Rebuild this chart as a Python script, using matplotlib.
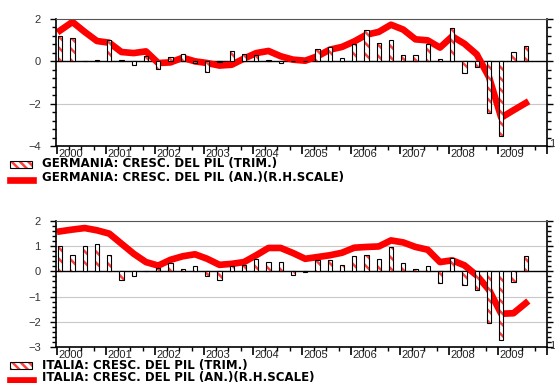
import matplotlib.pyplot as plt
import matplotlib.transforms as mtransforms
from matplotlib.patches import Rectangle
from matplotlib.lines import Line2D
import numpy as np

plt.rcParams['font.family'] = ['Liberation Sans', 'DejaVu Sans']
plt.rcParams['hatch.linewidth'] = 1.8

# quarters 2000Q1 .. 2009Q3
years = list(range(2000, 2010))
n_q = 39
quarters = [2000 + 0.25 * i + 0.066 for i in range(n_q)]

de_trim = [1.18, 1.12, 0.0, 0.05, 0.99, 0.05, -0.15, 0.24, -0.35, 0.2,
           0.36, -0.1, -0.5, -0.05, 0.49, 0.36, 0.28, 0.08, -0.1, 0.0,
           0.0, 0.57, 0.68, 0.17, 0.83, 1.46, 0.88, 0.99, 0.31, 0.31,
           0.8, 0.13, 1.59, -0.54, -0.27, -2.44, -3.51, 0.44, 0.74]
de_an = [1.46, 1.86, 1.39, 0.96, 0.88, 0.44, 0.39, 0.47, -0.08, -0.05,
         0.17, 0.0, -0.08, -0.2, -0.16, 0.13, 0.39, 0.49, 0.24, 0.08,
         0.03, 0.24, 0.55, 0.68, 0.94, 1.26, 1.39, 1.73, 1.5, 1.04,
         0.99, 0.65, 1.18, 0.83, 0.33, -0.74, -2.66, -2.31, -1.97]

it_trim = [1.0, 0.66, 1.0, 1.07, 0.66, -0.33, -0.2, 0.0, 0.13, 0.33,
           0.1, 0.2, -0.2, -0.36, 0.21, 0.26, 0.5, 0.37, 0.37, -0.13,
           -0.02, 0.44, 0.44, 0.24, 0.61, 0.66, 0.49, 0.95, 0.33, 0.1,
           0.2, -0.45, 0.54, -0.53, -0.75, -2.05, -2.72, -0.44, 0.61]
it_an = [1.59, 1.66, 1.72, 1.63, 1.5, 1.1, 0.7, 0.37, 0.23, 0.46,
         0.6, 0.68, 0.5, 0.26, 0.3, 0.37, 0.64, 0.93, 0.93, 0.73,
         0.5, 0.57, 0.64, 0.74, 0.94, 0.97, 0.99, 1.23, 1.15, 0.97,
         0.86, 0.37, 0.44, 0.24, -0.16, -0.73, -1.68, -1.66, -1.26]

labels_de = ['GERMANIA: CRESC. DEL PIL (TRIM.)',
             'GERMANIA: CRESC. DEL PIL (AN.)(R.H.SCALE)']
labels_it = ['ITALIA: CRESC. DEL PIL (TRIM.)',
             'ITALIA: CRESC. DEL PIL (AN.)(R.H.SCALE)']

W, H = 555, 383
fig = plt.figure(figsize=(W / 100, H / 100), dpi=100)


def px_axes(left, top, right, bottom):
    return fig.add_axes([left / W, 1 - bottom / H, (right - left) / W, (bottom - top) / H])


def panel(ax, trim, an, ylim, yticks, minor_step, grid_vals):
    ax.set_xlim(1999.98, 2009.86)
    ax.set_ylim(*ylim)
    for g in grid_vals:
        ax.axhline(g, color='#c8c8c8', lw=0.8, zorder=0)
    ax.axhline(0, color='black', lw=1.0, zorder=1)
    ax.plot(quarters, an, color='#ff0000', lw=4.8, solid_joinstyle='round', zorder=2)
    ax.bar(quarters, trim, width=0.09, color='white', edgecolor='#ff4040',
           hatch='\\\\\\', linewidth=0, zorder=3)
    ax.bar(quarters, trim, width=0.09, color='none', edgecolor='black',
           linewidth=0.8, zorder=4)
    ax.set_yticks(yticks)
    ax.set_yticks(np.arange(ylim[0], ylim[1] + 0.001, minor_step), minor=True)
    ax.set_xticks(years + [2010])
    ax.set_xticks(np.arange(2000, 2010, 0.25), minor=True)
    ax.set_xticklabels([])
    ax.tick_params(axis='y', which='both', direction='out', left=True, right=True,
                   labelsize=8, labelcolor='#333333', width=1, pad=7)
    ax.tick_params(axis='y', which='major', length=4)
    ax.tick_params(axis='y', which='minor', length=3)
    ax.tick_params(axis='x', which='major', length=6, width=1.2)
    ax.tick_params(axis='x', which='minor', length=3, width=1)
    ax.spines['top'].set_color('#555555')
    for s in ['left', 'right', 'bottom']:
        ax.spines[s].set_linewidth(1.2)
    trans = mtransforms.blended_transform_factory(ax.transData, ax.transAxes)
    for y in years:
        ax.text(y + 0.28, -0.025, str(y), transform=trans, ha='center', va='top',
                fontsize=8, color='#222222')


ax1 = px_axes(56, 19, 547, 146)
panel(ax1, de_trim, de_an, (-4, 2), [-4, -2, 0, 2], 0.4, [-2])
ax2 = px_axes(56, 221, 547, 347)
panel(ax2, it_trim, it_an, (-3, 2), [-3, -2, -1, 0, 1, 2], 0.2, [1, -1, -2])


def legend(y1, y2, labels):
    fig.patches.append(Rectangle((10 / W, 1 - (y1 + 3.5) / H), 22 / W, 7 / H,
                                 transform=fig.transFigure, facecolor='white',
                                 edgecolor='#ff4040', hatch='\\\\\\\\', lw=0))
    fig.patches.append(Rectangle((10 / W, 1 - (y1 + 3.5) / H), 22 / W, 7 / H,
                                 transform=fig.transFigure, facecolor='none',
                                 edgecolor='black', lw=0.8))
    fig.lines.append(Line2D([10 / W, 33 / W], [1 - (y2 + 2) / H] * 2,
                            transform=fig.transFigure, color='#ff0000', lw=4.8))
    for y, lab in [(y1, labels[0]), (y2, labels[1])]:
        fig.text(42 / W, 1 - y / H, lab, fontsize=8.5, fontweight='bold', va='center',
                 family='DejaVu Sans')


legend(164, 178, labels_de)
legend(365, 378, labels_it)

fig.text(549 / W, 1 - 144 / H, '1', fontsize=8, color='#333333', va='center')
fig.text(549 / W, 1 - 346 / H, '1', fontsize=8, color='#333333', va='center')

fig.savefig('out.png', dpi=100)
